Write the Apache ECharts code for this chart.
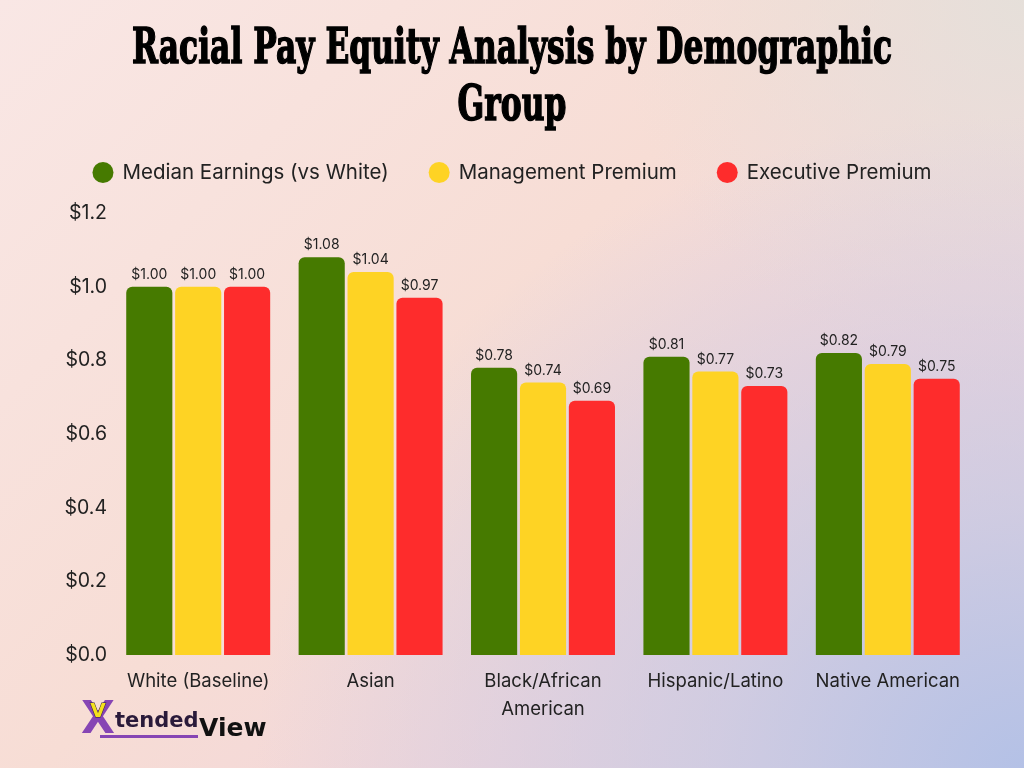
<!DOCTYPE html>
<html>
<head>
<meta charset="utf-8">
<title>Racial Pay Equity Analysis</title>
<script src="https://cdn.jsdelivr.net/npm/echarts@6/dist/echarts.min.js"></script>
<style>
    html, body {
        margin: 0;
        padding: 0;
        width: 1024px;
        height: 768px;
        overflow: hidden;
    }
    body {
        background:
            radial-gradient(ellipse 75% 85% at 100% 100%, rgba(180, 193, 230, 1) 0%, rgba(196, 200, 228, 0.7) 40%, rgba(220, 210, 225, 0) 100%),
            radial-gradient(ellipse 40% 50% at 100% 0%, rgba(228, 224, 218, 0.9) 0%, rgba(228, 224, 218, 0) 100%),
            linear-gradient(135deg, #f9e7e5 0%, #f7ddd5 45%, #f2d6da 70%, #e6d2dc 100%);
    }
    #chart {
        width: 1024px;
        height: 768px;
    }
</style>
</head>
<body>
<div id="chart"></div>
<script>
// 数据
const groups = ['White (Baseline)', 'Asian', 'Black/African\nAmerican', 'Hispanic/Latino', 'Native American'];
const seriesNames = ['Median Earnings (vs White)', 'Management Premium', 'Executive Premium'];
const medianEarnings = [1.00, 1.08, 0.78, 0.81, 0.82];
const managementPremium = [1.00, 1.04, 0.74, 0.77, 0.79];
const executivePremium = [1.00, 0.97, 0.69, 0.73, 0.75];
const yTicks = { min: 0, max: 1.2, interval: 0.2 };

const colors = ['#467a00', '#fed324', '#fe2c2c'];
const titleLine1 = 'Racial Pay Equity Analysis by Demographic';
const titleLine2 = 'Group';
const titleFont = 'bold 49px "DejaVu Serif"';

// 标题字体压缩，模拟窄体字
function titleScale(text, targetWidth) {
    const ctx = document.createElement('canvas').getContext('2d');
    ctx.font = titleFont;
    return targetWidth / ctx.measureText(text).width;
}
const sx = titleScale(titleLine1, 760);

const chart = echarts.init(document.getElementById('chart'));

function makeSeries(name, data, color) {
    return {
        name: name,
        type: 'bar',
        data: data,
        barGap: '6%',
        barCategoryGap: '16.5%',
        itemStyle: {
            color: color,
            borderRadius: [6, 6, 0, 0]
        },
        label: {
            show: true,
            position: 'top',
            distance: 5,
            color: '#222',
            fontSize: 14,
            fontFamily: 'Inter',
            formatter: p => '$' + p.value.toFixed(2)
        }
    };
}

function titleText(text, y) {
    return {
        type: 'text',
        x: 512, y: y,
        originX: 0, originY: 0,
        scaleX: sx,
        style: {
            text: text,
            font: titleFont,
            fill: '#000',
            stroke: '#000',
            lineWidth: 1.6,
            align: 'center',
            verticalAlign: 'middle'
        }
    };
}

const option = {
    backgroundColor: 'transparent',
    animation: false,
    graphic: [
        titleText(titleLine1, 50),
        titleText(titleLine2, 107),
        // logo
        {
            type: 'text',
            x: 98, y: 722,
            style: {
                text: 'X',
                font: 'bold 44px "DejaVu Sans"',
                fill: '#8645b4',
                align: 'center',
                verticalAlign: 'middle'
            }
        },
        {
            type: 'text',
            x: 98, y: 712,
            style: {
                text: 'V',
                font: 'bold 20px "DejaVu Sans"',
                fill: '#f4e11c',
                stroke: '#2a1a3a',
                lineWidth: 1,
                align: 'center',
                verticalAlign: 'middle'
            }
        },
        {
            type: 'text',
            x: 115, y: 722,
            style: {
                text: 'tended',
                font: 'bold 21px "DejaVu Sans"',
                fill: '#2a1a3a',
                align: 'left',
                verticalAlign: 'middle'
            }
        },
        {
            type: 'rect',
            shape: { x: 100, y: 735, width: 98, height: 3 },
            style: { fill: '#8645b4' }
        },
        {
            type: 'text',
            x: 199, y: 729,
            style: {
                text: 'View',
                font: 'bold 25px "DejaVu Sans"',
                fill: '#111',
                align: 'left',
                verticalAlign: 'middle'
            }
        }
    ],
    legend: {
        top: 157,
        left: 'center',
        icon: 'circle',
        itemWidth: 21,
        itemHeight: 21,
        itemGap: 40,
        textStyle: {
            color: '#222',
            fontSize: 20.5,
            fontFamily: 'Inter',
            padding: [0, 0, 0, 4]
        },
        data: seriesNames
    },
    grid: {
        left: 112,
        right: 50,
        top: 213,
        bottom: 113,
        containLabel: false
    },
    xAxis: {
        type: 'category',
        data: groups,
        axisLine: { show: false },
        axisTick: { show: false },
        axisLabel: {
            color: '#222',
            fontSize: 18.5,
            fontFamily: 'Inter',
            margin: 12,
            lineHeight: 28,
            interval: 0
        }
    },
    yAxis: {
        type: 'value',
        min: yTicks.min,
        max: yTicks.max,
        interval: yTicks.interval,
        axisLine: { show: false },
        axisTick: { show: false },
        splitLine: { show: false },
        axisLabel: {
            color: '#222',
            fontSize: 19.5,
            fontFamily: 'Inter',
            margin: 5,
            formatter: value => '$' + value.toFixed(1)
        }
    },
    series: [
        makeSeries(seriesNames[0], medianEarnings, colors[0]),
        makeSeries(seriesNames[1], managementPremium, colors[1]),
        makeSeries(seriesNames[2], executivePremium, colors[2])
    ]
};

chart.setOption(option);
</script>
</body>
</html>
